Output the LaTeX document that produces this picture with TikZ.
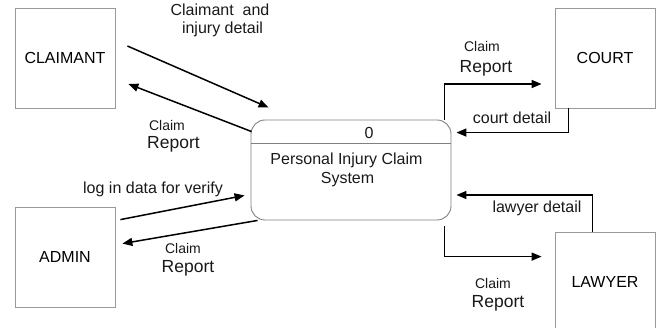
\documentclass[tikz,border=0pt]{standalone}
\usepackage{fontspec}
\setmainfont{Liberation Sans}
\usetikzlibrary{arrows.meta,calc}
\begin{document}
\begin{tikzpicture}[x=1pt,y=-1pt,
  ent/.style={draw=black!40,line width=0.8pt,minimum width=100pt,minimum height=100pt,inner sep=0pt,font=\fontsize{16}{18}\selectfont},
  proc/.style={draw=black!50,line width=0.9pt,rounded corners=14pt,minimum width=200pt,minimum height=100pt,inner sep=0pt},
  flow/.style={line width=1.5pt,-{Triangle[length=10pt,width=8pt]}},
  lab/.style={font=\fontsize{16}{18}\selectfont,inner sep=0pt,text=black!90},
  labs/.style={font=\fontsize{14}{16}\selectfont,inner sep=0pt,text=black!90},
  labr/.style={font=\fontsize{17.5}{19}\selectfont,inner sep=0pt,text=black!90}]
\useasboundingbox (0,0) rectangle (659,328);
\node[ent] (claimant) at (65,58) {CLAIMANT};
\node[ent] (admin) at (65,257) {ADMIN};
\node[ent] (court) at (605,58) {COURT};
\node[ent] (lawyer) at (605,282) {\raisebox{0pt}{LAWYER}};
\node[proc] (proc) at (351,170) {};
\draw[black!50,line width=0.9pt] ($(proc.north west)+(0,24)$) coordinate (dl) -- ($(proc.north east)+(0,24)$) coordinate (dr);
\node[lab] (zero) at (369,133) {0};
\node[lab] (pname) at (346.5,160) {Personal Injury Claim};
\node[lab] (pname2) at (347.5,180) {System};
% claimant
\draw[flow] ($(claimant.east)+(12,-12)$) -- ($(proc.north west)+(18,-12)$);
\draw[flow] ($(proc.north west)+(1,12)$) -- ($(claimant.east)+(13,26)$);
\node[lab] (l1) at (220,10) {Claimant\ \ and};
\node[lab] (l2) at (222.5,29) {injury detail};
\node[labs] (l3) at (167,125) {Claim};
\node[labr] (l4) at (173.5,144) {Report};
% court
\draw[flow] ($(proc.north east)+(-7,0)$) |- ($(court.west)+(-13,26)$);
\draw[flow] ($(court.south west)+(14,0)$) |- ($(proc.north east)+(5,13)$);
\node[labs] (l5) at (482,47) {Claim};
\node[labr] (l6) at (486,68) {Report};
\node[lab] (l7) at (512,118) {court detail};
% admin
\draw[flow] ($(admin.north east)+(5,13)$) -- ($(proc.south west)+(-6,-25)$);
\draw[flow] ($(proc.south west)+(7,0)$) -- ($(admin.north east)+(7,37)$);
\node[lab] (l8) at (153,189) {log in data for verify};
\node[labs] (l9) at (183,248) {Claim};
\node[labr] (l10) at (188,268) {Report};
% lawyer
\draw[flow] ($(lawyer.north west)+(38,0)$) |- ($(proc.east)+(5,25)$);
\draw[flow] ($(proc.south east)+(-7,6)$) |- ($(lawyer.north west)+(-13,25)$);
\node[lab] (l11) at (537,208) {lawyer detail};
\node[labs] (l12) at (493,283) {Claim};
\node[labr] (l13) at (498,303) {Report};
\end{tikzpicture}
\end{document}
